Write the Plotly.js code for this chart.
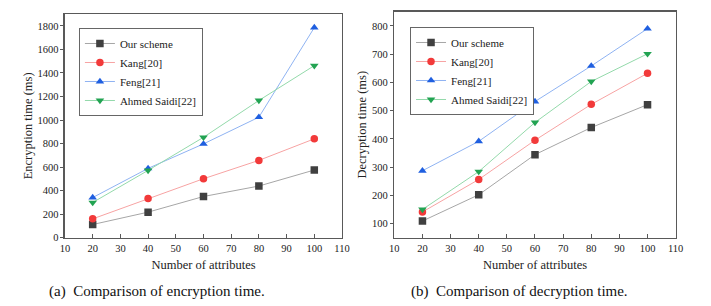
<!DOCTYPE html>
<html>
<head>
<meta charset="utf-8">
<script src="https://cdn.plot.ly/plotly-3.0.1.min.js"></script>
<style>html,body{margin:0;padding:0;background:#fff;}#chart{width:711px;height:306px;}</style>
</head>
<body>
<div id="chart"></div>
<script>
const attributes = [20, 40, 60, 80, 100];
const seriesNames = ["Our scheme", "Kang[20]", "Feng[21]", "Ahmed Saidi[22]"];
const encOurs  = [112, 217, 350, 439, 575];
const encKang  = [160, 333, 501, 657, 840];
const encFeng  = [341, 589, 797, 1024, 1785];
const encSaidi = [299, 572, 853, 1166, 1462];
const decOurs  = [109, 202, 344, 440, 521];
const decKang  = [141, 256, 395, 522, 632];
const decFeng  = [287, 391, 532, 658, 790];
const decSaidi = [150, 284, 458, 603, 701];
const captions = ["(a)  Comparison of encryption time.", "(b)  Comparison of decryption time."];

const styles = [
  {line: "#a6a6a6", marker: "#404040", symbol: "square"},
  {line: "#f7a3a3", marker: "#f23a3a", symbol: "circle"},
  {line: "#8fb3f2", marker: "#1f5fe0", symbol: "triangle-up"},
  {line: "#93d9aa", marker: "#22a352", symbol: "triangle-down"}
];
const font = "'Liberation Serif', 'Times New Roman', serif";

function mk(y, i, xa, ya, leg) {
  return {
    x: attributes, y: y, name: seriesNames[i], type: "scatter", mode: "lines+markers",
    xaxis: xa, yaxis: ya, legend: leg,
    line: {color: styles[i].line, width: 1},
    marker: {color: styles[i].marker, symbol: styles[i].symbol, size: 7.5}
  };
}
const data = [
  mk(encOurs, 0, "x", "y", "legend"),
  mk(encKang, 1, "x", "y", "legend"),
  mk(encFeng, 2, "x", "y", "legend"),
  mk(encSaidi, 3, "x", "y", "legend"),
  mk(decOurs, 0, "x2", "y2", "legend2"),
  mk(decKang, 1, "x2", "y2", "legend2"),
  mk(decFeng, 2, "x2", "y2", "legend2"),
  mk(decSaidi, 3, "x2", "y2", "legend2")
];

function xax(dom, anchor) {
  return {
    domain: dom, anchor: anchor, range: [10, 110], tick0: 10, dtick: 10,
    showgrid: false, zeroline: false, showline: true, mirror: true,
    linecolor: "#595959", linewidth: 1.5,
    ticks: "inside", ticklen: 4, tickcolor: "#595959", tickwidth: 1,
    tickfont: {family: font, size: 10.5, color: "#222"},
    title: {text: "Number of attributes", font: {family: font, size: 12.5, color: "#222"}, standoff: 7}
  };
}
function yax(dom, anchor, range, dtick, tick0, title) {
  return {
    domain: dom, anchor: anchor, range: range, tick0: tick0, dtick: dtick,
    showgrid: false, zeroline: false, showline: true, mirror: true,
    linecolor: "#595959", linewidth: 1.5,
    ticks: "outside", ticklen: 3, tickcolor: "#595959", tickwidth: 1,
    tickfont: {family: font, size: 10.5, color: "#222"},
    title: {text: title, font: {family: font, size: 12.5, color: "#222"}, standoff: 2}
  };
}
const legStyle = (x, y) => ({
  x: x, y: y, xanchor: "left", yanchor: "top", xref: "paper", yref: "paper",
  bgcolor: "rgba(255,255,255,1)", bordercolor: "#666", borderwidth: 1,
  font: {family: font, size: 11, color: "#222"}, tracegroupgap: 0, itemwidth: 30
});

const layout = {
  width: 711, height: 306,
  margin: {l: 0, r: 0, t: 0, b: 0},
  paper_bgcolor: "#fff", plot_bgcolor: "#fff",
  font: {family: font},
  xaxis: xax([0.0914, 0.481], "y"),
  yaxis: yax([0.2232, 0.954], "x", [0, 1900], 200, 0, "Encryption time (ms)"),
  xaxis2: xax([0.5546, 0.9503], "y2"),
  yaxis2: yax([0.2232, 0.9618], "x2", [50, 850], 100, 0, "Decryption time (ms)"),
  legend: legStyle(0.111, 0.9085),
  legend2: legStyle(0.5767, 0.9118),
  annotations: [
    {text: captions[0], x: 157/711, y: 1 - 291/306, xref: "paper", yref: "paper", showarrow: false,
     xanchor: "center", yanchor: "middle", font: {family: font, size: 15, color: "#111"}},
    {text: captions[1], x: 519/711, y: 1 - 291/306, xref: "paper", yref: "paper", showarrow: false,
     xanchor: "center", yanchor: "middle", font: {family: font, size: 15, color: "#111"}}
  ]
};
Plotly.newPlot("chart", data, layout, {displayModeBar: false, staticPlot: true});
</script>
</body>
</html>
